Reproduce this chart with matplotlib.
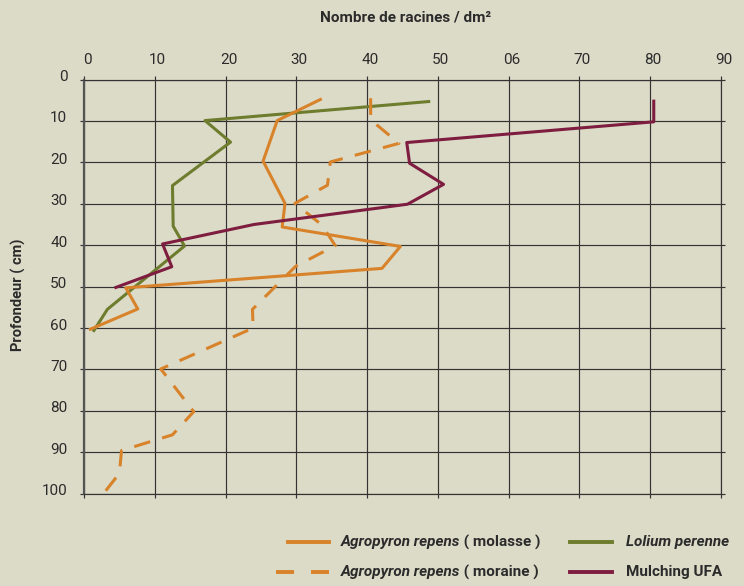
import matplotlib
matplotlib.use("Agg")
import matplotlib.pyplot as plt
import matplotlib.transforms as mtransforms
from matplotlib.lines import Line2D

plt.rcParams["font.family"] = ["DejaVu Sans Condensed", "Roboto", "DejaVu Sans"]
plt.rcParams["lines.scale_dashes"] = False

FOND = "#dcdbc8"
ORANGE = "#d8822a"
VERT = "#6e7c2e"
BORDEAUX = "#7e1d40"
GRILLE = "#333333"
TEXTE = "#2b2b2b"

# profondeur (cm) / nombre de racines par dm2
prof_molasse = [4.8, 9.9, 19.7, 29.9, 35.6, 40.3, 45.6, 50.3, 55.4, 60.3]
racines_molasse = [33.4, 27.3, 25.3, 28.4, 28.0, 44.7, 42.1, 5.9, 7.6, 0.9]

prof_moraine = [4.5, 9.7, 15.4, 19.9, 25.5, 29.9, 35.1, 40.1, 45.1, 55.5, 60.0, 69.9, 80.2, 85.8, 89.6, 95.1, 99.9]
racines_moraine = [40.5, 40.5, 44.5, 34.8, 34.4, 29.8, 33.6, 35.5, 29.9, 23.8, 23.9, 10.85, 15.5, 12.5, 5.3, 5.0, 2.8]

prof_lolium = [5.3, 9.9, 15.1, 25.6, 35.4, 40.2, 55.5, 60.6]
racines_lolium = [48.7, 17.1, 20.7, 12.5, 12.6, 14.2, 3.3, 1.4]

prof_mulching = [5.2, 10.2, 15.2, 20.2, 25.3, 30.1, 35.0, 39.7, 45.2, 50.2]
racines_mulching = [80.5, 80.5, 45.6, 46.0, 50.8, 45.7, 24.0, 11.1, 12.4, 4.5]

x_ticks = [0, 10, 20, 30, 40, 50, 60, 70, 80, 90]
x_labels = ["0", "10", "20", "30", "40", "50", "06", "70", "80", "90"]
y_ticks = [0, 10, 20, 30, 40, 50, 60, 70, 80, 90, 100]

W, H = 744, 586
fig = plt.figure(figsize=(W / 100, H / 100), dpi=100, facecolor=FOND)
ax = fig.add_axes([84 / W, 1 - 493.6 / H, 637 / W, 414 / H], facecolor=FOND)

lw = 2.2
ax.plot(racines_lolium, prof_lolium, color=VERT, lw=lw, zorder=3)
ax.plot(racines_molasse, prof_molasse, color=ORANGE, lw=lw, zorder=4)
ax.plot(racines_moraine, prof_moraine, color=ORANGE, lw=lw, dashes=(12, 9), zorder=5)
ax.plot(racines_mulching, prof_mulching, color=BORDEAUX, lw=lw, zorder=6)

ax.set_xlim(0, 90)
ax.set_ylim(100, 0)
ax.set_xticks(x_ticks)
ax.set_xticklabels(x_labels)
ax.set_yticks(y_ticks)
ax.grid(True, color=GRILLE, lw=0.85)
ax.set_axisbelow(True)

for side in ["top", "right", "bottom"]:
    ax.spines[side].set_color(GRILLE)
    ax.spines[side].set_linewidth(0.85)
ax.spines["left"].set_color("#555555")
ax.spines["left"].set_linewidth(1.6)

ax.tick_params(axis="x", top=True, bottom=True, labeltop=True, labelbottom=False,
               direction="out", length=3, width=0.85, color=GRILLE, pad=6,
               labelsize=11, labelcolor=TEXTE)
ax.tick_params(axis="y", left=True, right=True, direction="out", length=3,
               width=0.85, color=GRILLE, pad=9, labelsize=11, labelcolor=TEXTE)

# petits décalages des étiquettes de graduation
dx = mtransforms.ScaledTranslation(3 / 100, 0, fig.dpi_scale_trans)
for lab in ax.get_xticklabels(which="both"):
    lab.set_transform(lab.get_transform() + dx)
dy = mtransforms.ScaledTranslation(0, 4 / 100, fig.dpi_scale_trans)
for lab in ax.get_yticklabels():
    lab.set_transform(lab.get_transform() + dy)

fig.text(406 / W, 1 - 18 / H, "Nombre de racines / dm²", ha="center", va="center",
         fontsize=11, fontweight="bold", color=TEXTE)
fig.text(18 / W, 1 - 295 / H, "Profondeur ( cm)", ha="center", va="center",
         rotation=90, fontsize=10.5, fontweight="bold", color=TEXTE)

# légende
def px(x, y):
    return x / W, 1 - y / H

renderer = fig.canvas.get_renderer()
TAILLE_LEG = 11


def entree(x, y, italique, suite):
    t = fig.text(*px(x, y), italique, ha="left", va="center", fontsize=TAILLE_LEG,
                 fontstyle="italic", fontweight="bold", color=TEXTE)
    if suite:
        bb = t.get_window_extent(renderer)
        fig.text(bb.x1 / W, 1 - y / H, suite, ha="left", va="center",
                 fontsize=TAILLE_LEG, fontweight="bold", color=TEXTE)


y1, y2 = 542, 572
fig.add_artist(Line2D([288 / W, 329 / W], [1 - y1 / H] * 2, color=ORANGE, lw=2.8))
fig.add_artist(Line2D([276 / W, 329 / W], [1 - y2 / H] * 2, color=ORANGE, lw=2.8,
                      dashes=(13, 12.2)))
fig.add_artist(Line2D([570 / W, 612 / W], [1 - y1 / H] * 2, color=VERT, lw=2.8))
fig.add_artist(Line2D([570 / W, 612 / W], [1 - y2 / H] * 2, color=BORDEAUX, lw=2.8))

entree(341, y1, "Agropyron repens", " ( molasse )")
entree(341, y2, "Agropyron repens", " ( moraine )")
entree(626, y1, "Lolium perenne", None)
fig.text(*px(626, y2), "Mulching UFA", ha="left", va="center", fontsize=TAILLE_LEG,
         fontweight="bold", color=TEXTE)

fig.savefig("out.png", dpi=100, facecolor=FOND)
